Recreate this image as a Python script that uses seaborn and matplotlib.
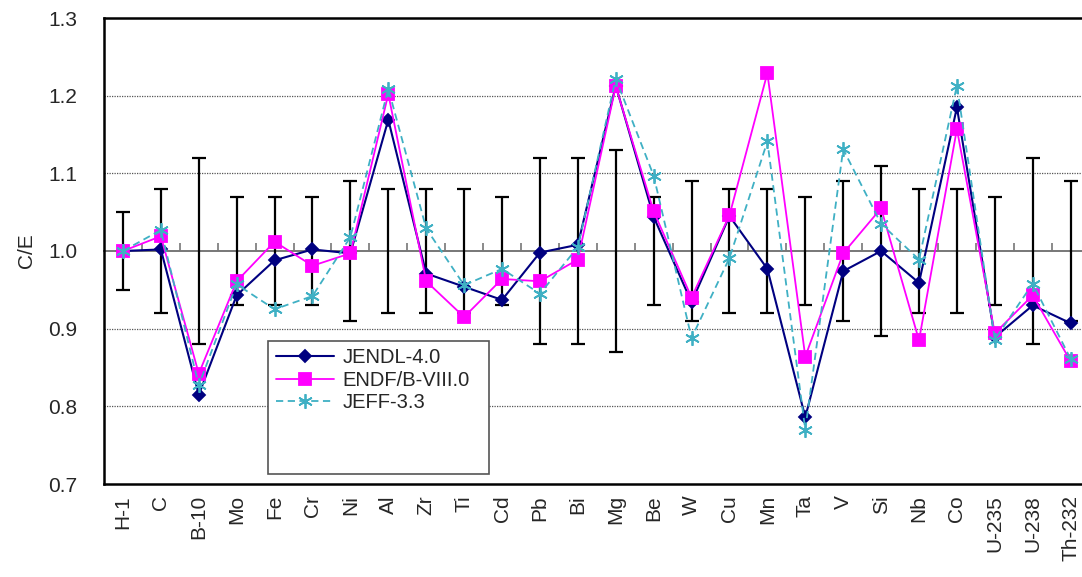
import numpy as np
import pandas as pd
import matplotlib
matplotlib.use("Agg")
from matplotlib import pyplot as plt
from matplotlib.patches import Rectangle
import seaborn as sns

# 核种 / 元素
elements = ["H-1", "C", "B-10", "Mo", "Fe", "Cr", "Ni", "Al", "Zr", "Ti", "Cd", "Pb", "Bi",
            "Mg", "Be", "W", "Cu", "Mn", "Ta", "V", "Si", "Nb", "Co", "U-235", "U-238", "Th-232"]

# C/E values
jendl = [1.000, 1.002, 0.815, 0.943, 0.988, 1.002, 0.997, 1.169, 0.971, 0.954, 0.937, 0.998, 1.008,
         1.213, 1.044, 0.934, 1.045, 0.977, 0.786, 0.974, 1.000, 0.959, 1.185, 0.889, 0.930, 0.907]
endf = [1.000, 1.019, 0.842, 0.961, 1.012, 0.981, 0.997, 1.202, 0.961, 0.915, 0.964, 0.961, 0.989,
        1.212, 1.051, 0.940, 1.046, 1.229, 0.864, 0.997, 1.055, 0.885, 1.157, 0.894, 0.943, 0.858]
jeff = [1.000, 1.027, 0.827, 0.957, 0.925, 0.942, 1.018, 1.209, 1.029, 0.956, 0.977, 0.945, 1.005,
        1.222, 1.097, 0.888, 0.991, 1.141, 0.770, 1.131, 1.035, 0.989, 1.213, 0.886, 0.958, 0.861]

# experimental uncertainty (around C/E = 1)
exp_err = [0.05, 0.08, 0.12, 0.07, 0.07, 0.07, 0.09, 0.08, 0.08, 0.08, 0.07, 0.12, 0.12,
           0.13, 0.07, 0.09, 0.08, 0.08, 0.07, 0.09, 0.11, 0.08, 0.08, 0.07, 0.12, 0.09]

sns.set_style("white")
plt.rcParams["font.family"] = ["Liberation Sans", "DejaVu Sans"]

df = pd.DataFrame({"element": elements, "JENDL-4.0": jendl,
                   "ENDF/B-VIII.0": endf, "JEFF-3.3": jeff})

fig = plt.figure(figsize=(10.82, 5.77), dpi=100)
ax = fig.add_axes([104 / 1082, 1 - 484 / 577, 978 / 1082, 466 / 577])

# error bars first (bottom layer)
ax.errorbar(elements, np.ones(len(elements)), yerr=exp_err, fmt="none",
            ecolor="black", elinewidth=1.6, capsize=4.7, capthick=1.6, zorder=2)

styles = {
    "JENDL-4.0": dict(color="#000080", marker="D", markersize=6.5, linewidth=1.5, linestyle="-"),
    "ENDF/B-VIII.0": dict(color="#FF00FF", marker="s", markersize=8.8, linewidth=1.3, linestyle="-"),
    "JEFF-3.3": dict(color="#3FB0C4", marker=(6, 2, 0), markersize=10.5, linewidth=1.3,
                     linestyle=(0, (4, 2.5))),
}
handles = []
for i, (name, st) in enumerate(styles.items()):
    sns.lineplot(data=df, x="element", y=name, ax=ax, sort=False,
                 color=st["color"], marker=st["marker"], markersize=st["markersize"],
                 linewidth=st["linewidth"], linestyle=st["linestyle"],
                 markeredgecolor=st["color"], markerfacecolor=st["color"],
                 markeredgewidth=1.3, zorder=3 + i)
    handles.append(ax.lines[-1])

ax.set_xlim(-0.5, 25.3)
ax.set_ylim(0.7, 1.3)
ax.set_yticks([0.7, 0.8, 0.9, 1.0, 1.1, 1.2, 1.3])
ax.set_yticklabels([f"{v:.1f}" for v in ax.get_yticks()], fontsize=15)
ax.set_xlabel("")
ax.set_ylabel("C/E", fontsize=15, labelpad=9)
ax.tick_params(axis="y", length=0, pad=19)
ax.tick_params(axis="x", length=0, pad=8, labelsize=15, labelrotation=90)

# dotted grid, 1.0 handled by the secondary axis line
ax.grid(axis="y", linestyle=(0, (1, 1)), color="#555555", linewidth=0.9)
ax.grid(axis="x", visible=False)
for v, gl in zip(ax.get_yticks(), ax.get_ygridlines()):
    if abs(v - 1.0) < 1e-6 or v < 0.75 or v > 1.25:
        gl.set_visible(False)

for side in ["left", "bottom", "top"]:
    ax.spines[side].set_visible(True)
    ax.spines[side].set_color("black")
    ax.spines[side].set_linewidth(1.8)
ax.spines["right"].set_visible(False)

# axis crossing at C/E = 1.0 with tick marks between categories
ax2 = ax.twiny()
ax2.set_xlim(ax.get_xlim())
ax2.xaxis.set_ticks_position("bottom")
ax2.spines["bottom"].set_position(("data", 1.0))
ax2.spines["bottom"].set_color("#777777")
ax2.spines["bottom"].set_linewidth(1.4)
for side in ["left", "right", "top"]:
    ax2.spines[side].set_visible(False)
ax2.set_xticks(np.arange(len(elements) - 1) + 0.5)
ax2.tick_params(axis="x", direction="in", length=6, width=1.2, color="#777777",
                labelbottom=False, labeltop=False)
ax2.set_zorder(ax.get_zorder() - 1)
ax.patch.set_visible(False)

# legend with Excel-like box
box = Rectangle((0.1677, 0.0215), 0.226, 0.285, transform=ax.transAxes,
                facecolor="white", edgecolor="#555555", linewidth=1.2, zorder=8)
ax.add_patch(box)
leg = ax.legend(handles, list(styles.keys()), loc="upper left",
                bbox_to_anchor=(0.1759, 0.292), frameon=False, fontsize=14.5,
                borderpad=0, borderaxespad=0, handlelength=2.9, handletextpad=0.4,
                labelspacing=0.18)
leg.set_zorder(9)

fig.savefig("out.png", dpi=100)
